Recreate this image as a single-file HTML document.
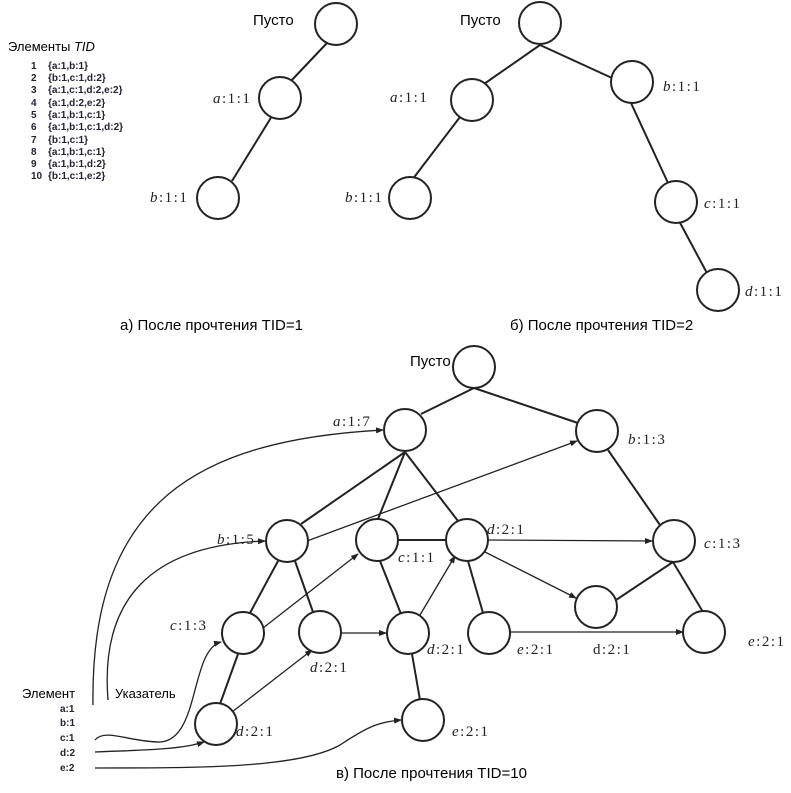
<!DOCTYPE html>
<html><head><meta charset="utf-8"><style>
html,body{margin:0;padding:0;background:#fff;width:791px;height:793px;overflow:hidden}
svg{display:block}
.lbl{font-family:"Liberation Serif",serif;font-size:15px;fill:#222;letter-spacing:1.5px}
.cap{font-family:"Liberation Sans",sans-serif;font-size:15px;fill:#000}
.sm{font-family:"Liberation Sans",sans-serif;font-size:10px;font-weight:bold;fill:#223}
</style></head><body>
<svg width="791" height="793" viewBox="0 0 791 793" xmlns="http://www.w3.org/2000/svg">
<defs><marker id="ar" markerWidth="8" markerHeight="6" refX="7" refY="3" orient="auto" markerUnits="userSpaceOnUse"><path d="M0,0 L8,3 L0,6 z" fill="#222"/></marker></defs>

<text x="8" y="51" font-family="Liberation Sans,sans-serif" font-size="13" fill="#000">Элементы <tspan font-style="italic">TID</tspan></text>
<g class="sm">
<text x="31" y="69">1</text><text x="48" y="69">{a:1,b:1}</text>
<text x="31" y="81">2</text><text x="48" y="81">{b:1,c:1,d:2}</text>
<text x="31" y="93">3</text><text x="48" y="93">{a:1,c:1,d:2,e:2}</text>
<text x="31" y="106">4</text><text x="48" y="106">{a:1,d:2,e:2}</text>
<text x="31" y="118">5</text><text x="48" y="118">{a:1,b:1,c:1}</text>
<text x="31" y="130">6</text><text x="48" y="130">{a:1,b:1,c:1,d:2}</text>
<text x="31" y="143">7</text><text x="48" y="143">{b:1,c:1}</text>
<text x="31" y="155">8</text><text x="48" y="155">{a:1,b:1,c:1}</text>
<text x="31" y="167">9</text><text x="48" y="167">{a:1,b:1,d:2}</text>
<text x="31" y="179">10</text><text x="48" y="179">{b:1,c:1,e:2}</text>
</g>

<g stroke="#222" stroke-width="2" fill="none">
<line x1="327" y1="43" x2="290" y2="82"/>
<line x1="272" y1="116" x2="232" y2="181"/>
<circle cx="336" cy="24" r="21" fill="#fff"/>
<circle cx="280" cy="98" r="21" fill="#fff"/>
<circle cx="218" cy="198" r="21" fill="#fff"/>
<line x1="540" y1="45" x2="484" y2="84"/>
<line x1="540" y1="45" x2="612" y2="78"/>
<line x1="460" y1="117" x2="412" y2="180"/>
<line x1="631" y1="103" x2="668" y2="183"/>
<line x1="678" y1="219" x2="708" y2="275"/>
<circle cx="540" cy="23" r="21" fill="#fff"/>
<circle cx="472" cy="100" r="21" fill="#fff"/>
<circle cx="632" cy="82" r="21" fill="#fff"/>
<circle cx="410" cy="198" r="21" fill="#fff"/>
<circle cx="676" cy="202" r="21" fill="#fff"/>
<circle cx="718" cy="290" r="21" fill="#fff"/>
</g>
<text class="cap" x="253" y="25">Пусто</text>
<text class="lbl" x="213" y="103"><tspan font-style="italic">a</tspan>:1:1</text>
<text class="lbl" x="150" y="202"><tspan font-style="italic">b</tspan>:1:1</text>
<text class="cap" x="460" y="25">Пусто</text>
<text class="lbl" x="390" y="102"><tspan font-style="italic">a</tspan>:1:1</text>
<text class="lbl" x="663" y="91"><tspan font-style="italic">b</tspan>:1:1</text>
<text class="lbl" x="345" y="202"><tspan font-style="italic">b</tspan>:1:1</text>
<text class="lbl" x="704" y="208"><tspan font-style="italic">c</tspan>:1:1</text>
<text class="lbl" x="745" y="296"><tspan font-style="italic">d</tspan>:1:1</text>
<text class="cap" x="120" y="330">а) После прочтения TID=1</text>
<text class="cap" x="510" y="330">б) После прочтения TID=2</text>

<g stroke="#222" stroke-width="2" fill="none">
<line x1="474" y1="388" x2="421" y2="414"/>
<line x1="474" y1="388" x2="578" y2="423"/>
<line x1="405" y1="452" x2="301" y2="524"/>
<line x1="405" y1="452" x2="378" y2="519"/>
<line x1="405" y1="452" x2="458" y2="521"/>
<line x1="398" y1="540" x2="446" y2="540"/>
<line x1="278" y1="561" x2="250" y2="613"/>
<line x1="295" y1="561" x2="313" y2="612"/>
<line x1="380" y1="561" x2="401" y2="614"/>
<line x1="468" y1="561" x2="483" y2="613"/>
<line x1="608" y1="450" x2="660" y2="525"/>
<line x1="673" y1="562" x2="616" y2="600"/>
<line x1="673" y1="562" x2="703" y2="612"/>
<line x1="238" y1="654" x2="220" y2="704"/>
<line x1="412" y1="654" x2="420" y2="700"/>
</g>
<g stroke="#222" stroke-width="1.3" fill="none" marker-end="url(#ar)">
<line x1="307" y1="541" x2="577" y2="441"/>
<line x1="263" y1="628" x2="358" y2="554"/>
<line x1="232" y1="712" x2="312" y2="650"/>
<line x1="341" y1="633" x2="386" y2="633"/>
<line x1="420" y1="615" x2="455" y2="556"/>
<line x1="488" y1="540" x2="652" y2="541"/>
<line x1="485" y1="552" x2="576" y2="598"/>
<line x1="510" y1="632" x2="683" y2="632"/>
<path d="M93,705 C90,500 200,440 383,430"/>
<path d="M108,700 C100,600 150,545 265,541"/>
<path d="M95,740 C105,728 130,742 160,742 C200,740 190,650 221,642"/>
<path d="M95,752 C140,750 180,750 204,742"/>
<path d="M95,768 C200,768 300,768 340,745 C370,725 380,722 401,720"/>
</g>
<g stroke="#222" stroke-width="2" fill="#fff">
<circle cx="474" cy="367" r="21"/>
<circle cx="405" cy="430" r="21"/>
<circle cx="597" cy="431" r="21"/>
<circle cx="287" cy="541" r="21"/>
<circle cx="377" cy="540" r="21"/>
<circle cx="467" cy="540" r="21"/>
<circle cx="674" cy="541" r="21"/>
<circle cx="243" cy="633" r="21"/>
<circle cx="320" cy="632" r="21"/>
<circle cx="408" cy="633" r="21"/>
<circle cx="489" cy="633" r="21"/>
<circle cx="596" cy="607" r="21"/>
<circle cx="704" cy="632" r="21"/>
<circle cx="216" cy="724" r="21"/>
<circle cx="423" cy="720" r="21"/>
</g>
<text class="cap" x="410" y="366">Пусто</text>
<text class="lbl" x="333" y="426"><tspan font-style="italic">a</tspan>:1:7</text>
<text class="lbl" x="628" y="444"><tspan font-style="italic">b</tspan>:1:3</text>
<text class="lbl" x="217" y="544"><tspan font-style="italic">b</tspan>:1:5</text>
<text class="lbl" x="398" y="562"><tspan font-style="italic">c</tspan>:1:1</text>
<text class="lbl" x="487" y="534"><tspan font-style="italic">d</tspan>:2:1</text>
<text class="lbl" x="704" y="548"><tspan font-style="italic">c</tspan>:1:3</text>
<text class="lbl" x="170" y="630"><tspan font-style="italic">c</tspan>:1:3</text>
<text class="lbl" x="310" y="672"><tspan font-style="italic">d</tspan>:2:1</text>
<text class="lbl" x="427" y="654"><tspan font-style="italic">d</tspan>:2:1</text>
<text class="lbl" x="517" y="654"><tspan font-style="italic">e</tspan>:2:1</text>
<text class="lbl" x="593" y="654">d:2:1</text>
<text class="lbl" x="748" y="646"><tspan font-style="italic">e</tspan>:2:1</text>
<text class="lbl" x="236" y="736"><tspan font-style="italic">d</tspan>:2:1</text>
<text class="lbl" x="452" y="736"><tspan font-style="italic">e</tspan>:2:1</text>

<text x="22" y="698" font-family="Liberation Sans,sans-serif" font-size="13" fill="#000">Элемент</text>
<text x="115" y="698" font-family="Liberation Sans,sans-serif" font-size="13" fill="#000">Указатель</text>
<g class="sm">
<text x="60" y="712">a:1</text>
<text x="60" y="726">b:1</text>
<text x="60" y="741">c:1</text>
<text x="60" y="756">d:2</text>
<text x="60" y="771">e:2</text>
</g>
<text class="cap" x="336" y="778">в) После прочтения TID=10</text>
</svg>
</body></html>
